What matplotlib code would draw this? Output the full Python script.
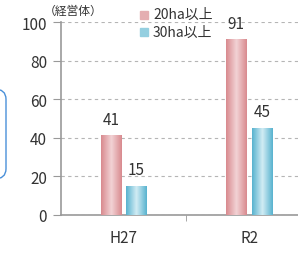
import matplotlib.pyplot as plt
import numpy as np
from matplotlib.patches import FancyBboxPatch
from matplotlib.colors import LinearSegmentedColormap

plt.rcParams['font.family'] = ['Noto Sans CJK JP', 'DejaVu Sans']

categories = ['H27', 'R2']
over20 = [41, 91]
over30 = [15, 45]
series_names = ['20ha以上', '30ha以上']

pink = LinearSegmentedColormap.from_list('p', ['#d98a8f', '#f2d3d5', '#d98a8f'])
blue = LinearSegmentedColormap.from_list('b', ['#58b3cf', '#d2ecf4', '#58b3cf'])
text_c = '#333333'

fig = plt.figure(figsize=(2.98, 2.55), dpi=100)
ax = fig.add_axes([61/298, 1 - 216/255, 237/298, 193/255])

x = np.arange(len(categories))
w = 0.165
gap = 0.04
grad = np.linspace(0, 1, 64).reshape(1, -1)

def gbar(xc, h, cmap):
    ax.imshow(grad, cmap=cmap, extent=[xc - w/2, xc + w/2, 0, h],
              aspect='auto', zorder=3)

for i in range(len(categories)):
    c1 = x[i] - (w + gap)/2
    c2 = x[i] + (w + gap)/2
    gbar(c1, over20[i], pink)
    gbar(c2, over30[i], blue)
    ax.text(c1, over20[i] + 4, str(over20[i]), ha='center', va='bottom',
            fontsize=11, color=text_c)
    ax.text(c2, over30[i] + 4, str(over30[i]), ha='center', va='bottom',
            fontsize=11, color=text_c)

ax.set_xlim(-0.5, 1.39)
ax.set_ylim(0, 100)
ax.set_yticks([0, 20, 40, 60, 80, 100])
ax.set_xticks(x)
ax.set_xticklabels(categories)
ax.set_xticks([0.5], minor=True)
ax.tick_params(axis='x', which='major', length=0, pad=10, labelsize=11, colors=text_c)
ax.tick_params(axis='x', which='minor', length=4, color='#999999', direction='out')
ax.tick_params(axis='y', length=6, color='#999999', labelsize=11, colors=text_c, pad=4)
ax.grid(axis='y', color='#b5b5b5', linestyle=(0, (3, 3)), linewidth=0.8, zorder=0)
for s in ['top', 'right']:
    ax.spines[s].set_visible(False)
ax.spines['left'].set_color('#999999')
ax.spines['bottom'].set_color('#999999')
ax.spines['left'].set_linewidth(1.2)
ax.spines['bottom'].set_linewidth(1.2)

# legend
fig.patches.append(plt.Rectangle((140/298, 1 - 20/255), 8/298, 8/255,
                                 transform=fig.transFigure, color='#e4aeb1'))
fig.patches.append(plt.Rectangle((140/298, 1 - 37/255), 8/298, 8/255,
                                 transform=fig.transFigure, color='#94cfe0'))
fig.text(153/298, 1 - 15/255, series_names[0], fontsize=10, color=text_c, va='center')
fig.text(153/298, 1 - 33/255, series_names[1], fontsize=10, color=text_c, va='center')
fig.text(44/298, 1 - 11/255, '（経営体）', fontsize=8.5, color=text_c, va='center')

# partial box from neighbouring element
fig.patches.append(FancyBboxPatch((-20/298, 1 - 180/255), 26/298, 90/255,
                                  boxstyle='round,pad=0,rounding_size=0.04',
                                  transform=fig.transFigure, fill=False,
                                  edgecolor='#4a90d9', linewidth=1.0))

fig.savefig('out.png', dpi=100)
